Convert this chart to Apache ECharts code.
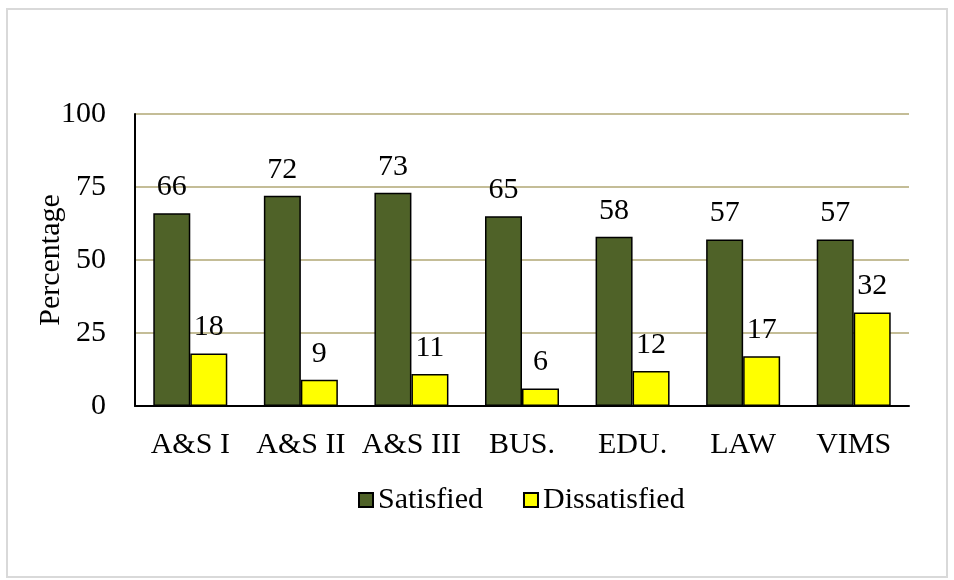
<!DOCTYPE html>
<html>
<head>
<meta charset="utf-8">
<script src="https://cdn.jsdelivr.net/npm/echarts@6/dist/echarts.min.js"></script>
<style>
  html, body { margin: 0; padding: 0; background: #fff; }
</style>
</head>
<body>
<!-- chart container -->
<div id="chartBox" style="width:954px; height:580px"></div>
<script>
var schools = ["A&S I", "A&S II", "A&S III", "BUS.", "EDU.", "LAW", "VIMS"];
var satisfied = [66, 72, 73, 65, 58, 57, 57];
var dissatisfied = [18, 9, 11, 6, 12, 17, 32];
var yTicks = [0, 25, 50, 75, 100];

var serif = "Liberation Serif, serif";
var legendText = { fontFamily: serif, fontSize: 30, color: "#000" };

var myChart = echarts.init(document.getElementById("chartBox"));

myChart.setOption({
  textStyle: { fontFamily: serif, fontSize: 30, color: "#000" },
  graphic: [
    {
      type: "rect",
      shape: { x: 7, y: 9, width: 940, height: 568 },
      style: { fill: "none", stroke: "#d9d9d9", lineWidth: 2 },
      silent: true
    }
  ],
  grid: {
    left: 135,
    right: 45,
    top: 114,
    bottom: 174
  },
  legend: {
    left: 353,
    top: 480,
    itemWidth: 14,
    itemHeight: 14,
    itemGap: 40,
    icon: "rect",
    textStyle: legendText,
    data: [
      { name: "Satisfied", textStyle: legendText },
      { name: "Dissatisfied", textStyle: legendText }
    ]
  },
  xAxis: {
    type: "category",
    data: schools,
    axisTick: { show: false },
    axisLine: { lineStyle: { color: "#000", width: 2 } },
    axisLabel: { fontFamily: serif, fontSize: 30, color: "#000", margin: 24, interval: 0 }
  },
  yAxis: {
    type: "value",
    min: yTicks[0],
    max: yTicks[yTicks.length - 1],
    interval: 25,
    name: "Percentage",
    nameLocation: "middle",
    nameRotate: 90,
    nameGap: 69,
    nameMoveOverlap: false,
    nameTextStyle: { fontFamily: serif, fontSize: 30, color: "#000" },
    axisLine: { show: true, lineStyle: { color: "#000", width: 2 } },
    axisTick: { show: false },
    axisLabel: { fontFamily: serif, fontSize: 30, color: "#000", margin: 29 },
    splitLine: { lineStyle: { color: "#c4bd97", width: 2 } }
  },
  series: [
    {
      name: "Satisfied",
      type: "bar",
      data: satisfied,
      barWidth: 37,
      barGap: "0%",
      itemStyle: { color: "#4f6228", borderColor: "#000", borderWidth: 1.5 },
      label: { show: true, position: "top", distance: 11, fontFamily: serif, fontSize: 30, color: "#000" }
    },
    {
      name: "Dissatisfied",
      type: "bar",
      data: dissatisfied,
      barWidth: 37,
      barGap: "0%",
      itemStyle: { color: "#ffff00", borderColor: "#000", borderWidth: 1.5 },
      label: { show: true, position: "top", distance: 11, fontFamily: serif, fontSize: 30, color: "#000" }
    }
  ]
});
</script>
</body>
</html>
